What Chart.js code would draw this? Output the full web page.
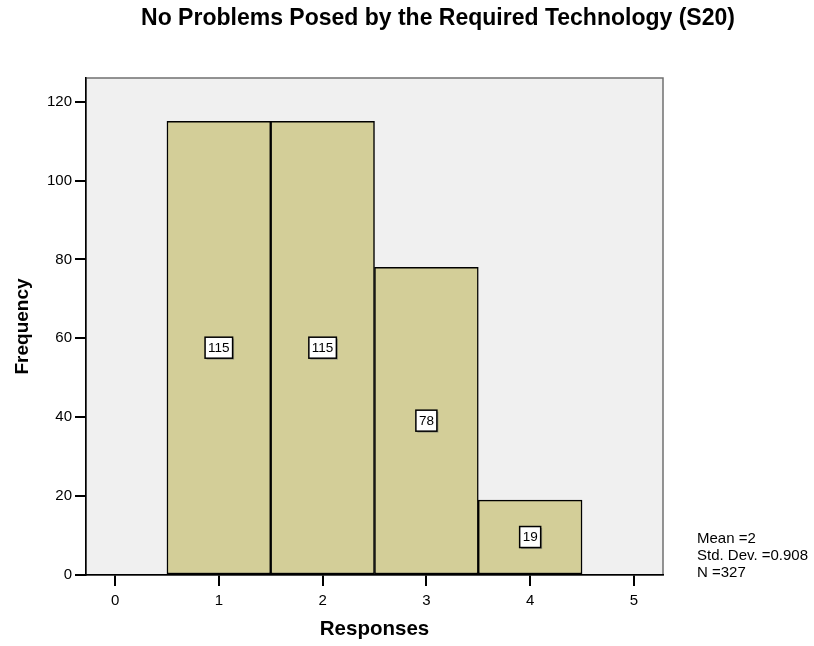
<!DOCTYPE html>
<html>
<head>
<meta charset="utf-8">
<script src="https://cdn.jsdelivr.net/npm/chart.js@4"></script>
<style>
  body { margin: 0; background: #fff; font-family: "Liberation Sans", Arial, sans-serif; }
  #wrap { position: relative; width: 814px; height: 646px; }
  #title { position: absolute; left: 31px; top: 3px; width: 814px; text-align: center;
           font-weight: bold; font-size: 23px; line-height: 28px; color: #000; }
  #stats { position: absolute; left: 697px; top: 529px; font-size: 15px; line-height: 17px; color: #000; }
</style>
</head>
<body>
<div id="wrap">
  <canvas id="hist" width="814" height="646"></canvas>
  <div id="title">No Problems Posed by the Required Technology (S20)</div>
  <div id="stats">Mean =2<br>Std. Dev. =0.908<br>N =327</div>
</div>
<script>
// data
let responses = [1, 2, 3, 4];
let freq = [115, 115, 78, 19];
let xTicks = [0, 1, 2, 3, 4, 5];
let yTicks = [0, 20, 40, 60, 80, 100, 120];

const fontFam = '"Liberation Sans", Arial, sans-serif';

// plot background + grey frame
const plotBg = {
  id: 'plotBg',
  beforeDraw(chart) {
    const {ctx, chartArea: a} = chart;
    ctx.save();
    ctx.fillStyle = '#f0f0f0';
    ctx.fillRect(a.left, a.top, a.right - a.left, a.bottom - a.top);
    ctx.strokeStyle = '#707070';
    ctx.lineWidth = 1.5;
    ctx.strokeRect(a.left, a.top, a.right - a.left, a.bottom - a.top);
    ctx.restore();
  }
};

// boxed count labels in the middle of each bar
const barLabels = {
  id: 'barLabels',
  afterDatasetsDraw(chart) {
    const ctx = chart.ctx;
    const meta = chart.getDatasetMeta(0);
    ctx.save();
    ctx.font = '13.5px ' + fontFam;
    ctx.textAlign = 'center';
    ctx.textBaseline = 'middle';
    meta.data.forEach((bar, i) => {
      const txt = String(freq[i]);
      const cx = bar.x;
      const cy = (bar.y + bar.base) / 2;
      const w = ctx.measureText(txt).width + 6;
      const h = 21;
      ctx.fillStyle = '#9a9a80';
      ctx.fillRect(cx - w / 2 + 1.5, cy - h / 2 + 1.5, w, h);
      ctx.fillStyle = '#fff';
      ctx.fillRect(cx - w / 2, cy - h / 2, w, h);
      ctx.strokeStyle = '#000';
      ctx.lineWidth = 1.5;
      ctx.strokeRect(cx - w / 2, cy - h / 2, w, h);
      ctx.fillStyle = '#000';
      ctx.fillText(txt, cx, cy + 0.5);
    });
    ctx.restore();
  }
};

const histData = {
  datasets: [{
    label: 'Frequency',
    data: responses.map((r, i) => ({x: r, y: freq[i]})),
    backgroundColor: '#d3ce98',
    borderColor: '#000',
    borderWidth: 1.5,
    borderSkipped: false,
    barPercentage: 1,
    categoryPercentage: 1
  }]
};

const histConfig = {
  type: 'bar',
  data: histData,
  options: {
    responsive: false,
    animation: false,
    layout: { padding: { top: 78, right: 151, left: 0, bottom: 0 } },
    plugins: {
      legend: { display: false },
      tooltip: { enabled: false }
    },
    scales: {
      x: {
        type: 'linear',
        min: -0.28,
        max: 5.28,
        offset: false,
        afterBuildTicks: s => { s.ticks = xTicks.map(v => ({value: v})); },
        afterFit: s => { s.height = 71; },
        ticks: { color: '#000', font: { size: 15, family: fontFam }, padding: 6 },
        grid: { offset: false, drawOnChartArea: false, drawTicks: true, tickLength: 11, color: '#000', lineWidth: 2 },
        border: { color: '#000', width: 1.5 },
        title: {
          display: true, text: 'Responses', color: '#000',
          font: { size: 20.5, weight: 'bold', family: fontFam },
          padding: { top: 0, bottom: 4 }
        }
      },
      y: {
        min: 0,
        max: 126,
        afterBuildTicks: s => { s.ticks = yTicks.map(v => ({value: v})); },
        afterFit: s => { s.width = 86; },
        ticks: { color: '#000', font: { size: 15, family: fontFam }, padding: 3 },
        grid: { drawOnChartArea: false, drawTicks: true, tickLength: 11, color: '#000', lineWidth: 2 },
        border: { color: '#000', width: 1.5 },
        title: {
          display: true, text: 'Frequency', color: '#000',
          font: { size: 19, weight: 'bold', family: fontFam },
          padding: { top: 11, bottom: 0 }
        }
      }
    }
  },
  plugins: [plotBg, barLabels]
};

let histChart = new Chart(document.getElementById('hist'), histConfig);
</script>
</body>
</html>
